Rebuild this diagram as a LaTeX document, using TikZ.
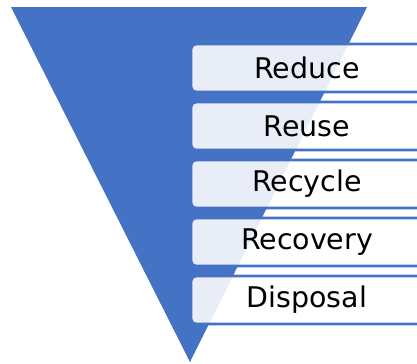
\documentclass[tikz,border=0pt]{standalone}
\usepackage{fontspec}
\setmainfont{DejaVu Sans}
\definecolor{azul}{HTML}{4472C4}

\begin{document}
\begin{tikzpicture}[x=0.02cm, y=-0.02cm,
    etapa/.style={draw=azul, line width=1.5pt, fill=white, fill opacity=0.88,
        text opacity=1, rounded corners=0.1cm, minimum width=4.64cm,
        minimum height=0.96cm, font=\fontsize{16.2}{19}\selectfont}]
        % Área
        \useasboundingbox (0,0) rectangle (417,363);
        \clip (0,0) rectangle (417,363);

        % Triângulo
        \fill[azul] (11,7) -- (367,7) -- (190,362) -- cycle;

        % Etapas
        \node[etapa] (reduce)   at (307,68)  {Reduce};
        \node[etapa] (reuse)    at (307,126) {Reuse};
        \node[etapa] (recycle)  at (307,184) {Recycle};
        \node[etapa] (recovery) at (307,242) {Recovery};
        \node[etapa] (disposal) at (307,300) {Disposal};
    \end{tikzpicture}
\end{document}
